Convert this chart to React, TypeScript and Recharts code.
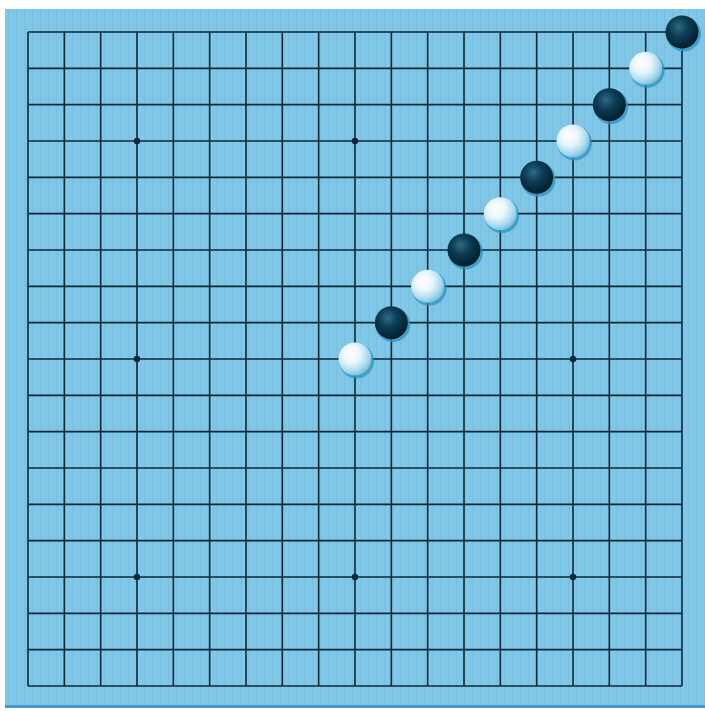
import React from 'react'
import { ScatterChart, Scatter, XAxis, YAxis, ReferenceLine } from 'recharts'

// board lines 0..18 (19x19)
const gridLines = [0, 1, 2, 3, 4, 5, 6, 7, 8, 9, 10, 11, 12, 13, 14, 15, 16, 17, 18]

// hoshi points
const starCols = [3, 9, 15, 3, 9, 15, 3, 9, 15]
const starRows = [3, 3, 3, 9, 9, 9, 15, 15, 15]

// stones: column from left, row from top
const blackCols = [18, 16, 14, 12, 10]
const blackRows = [0, 2, 4, 6, 8]
const whiteCols = [17, 15, 13, 11, 9]
const whiteRows = [1, 3, 5, 7, 9]

const toPoints = (cols: number[], rows: number[]) => cols.map((c, i) => ({ x: c, y: rows[i] }))

const stars = toPoints(starCols, starRows)
const blacks = toPoints(blackCols, blackRows)
const whites = toPoints(whiteCols, whiteRows)

const LINE = '#0c2838'
const R = 16.5

const Stone = ({ cx, cy, white }: any) => {
  if (cx == null || cy == null) return null
  return (
    <g>
      <circle cx={cx + 1.5} cy={cy + 2} r={R + 1} fill="#2b93bf" opacity={0.75} />
      <circle cx={cx} cy={cy} r={R} fill={white ? 'url(#whiteStone)' : 'url(#blackStone)'} />
    </g>
  )
}

const Star = ({ cx, cy }: any) => {
  if (cx == null || cy == null) return null
  return <circle cx={cx} cy={cy} r={3.2} fill={LINE} />
}

export default function App() {
  return (
    <div style={{ position: 'absolute', left: 0, top: 0, width: 705, height: 711, background: '#fff' }}>
      <svg width={0} height={0} style={{ position: 'absolute' }}>
        <defs>
          <radialGradient id="blackStone" cx="40%" cy="35%" r="65%">
            <stop offset="0%" stopColor="#2d6a84" />
            <stop offset="45%" stopColor="#0b3c54" />
            <stop offset="100%" stopColor="#031e2c" />
          </radialGradient>
          <radialGradient id="whiteStone" cx="38%" cy="35%" r="70%">
            <stop offset="0%" stopColor="#ffffff" />
            <stop offset="40%" stopColor="#eaf6fb" />
            <stop offset="75%" stopColor="#a9daee" />
            <stop offset="100%" stopColor="#6fbad8" />
          </radialGradient>
        </defs>
      </svg>
      <div
        style={{
          position: 'absolute',
          left: 5,
          top: 9,
          width: 700,
          height: 699,
          background:
            'repeating-linear-gradient(90deg, #80c7e7 0px, #80c7e7 3px, #74bfe2 4px, #86cbe9 6px, #7cc4e5 8px)',
          borderBottom: '3px solid #3f9dc8',
          boxSizing: 'border-box',
        }}
      />
      <div style={{ position: 'absolute', left: 0, top: 0 }}>
        <ScatterChart width={705} height={711} margin={{ top: 32, right: 23, bottom: 25, left: 28 }}>
          <XAxis type="number" dataKey="x" domain={[0, 18]} hide />
          <YAxis type="number" dataKey="y" domain={[0, 18]} reversed hide />
          {gridLines.map((v) => (
            <ReferenceLine key={`v-${v}`} x={v} stroke={LINE} strokeWidth={1.6} ifOverflow="visible" />
          ))}
          {gridLines.map((v) => (
            <ReferenceLine key={`h-${v}`} y={v} stroke={LINE} strokeWidth={1.6} ifOverflow="visible" />
          ))}
          <Scatter data={stars} shape={<Star />} isAnimationActive={false} />
          <Scatter data={whites} shape={(p: any) => <Stone {...p} white />} isAnimationActive={false} />
          <Scatter data={blacks} shape={(p: any) => <Stone {...p} />} isAnimationActive={false} />
        </ScatterChart>
      </div>
    </div>
  )
}
